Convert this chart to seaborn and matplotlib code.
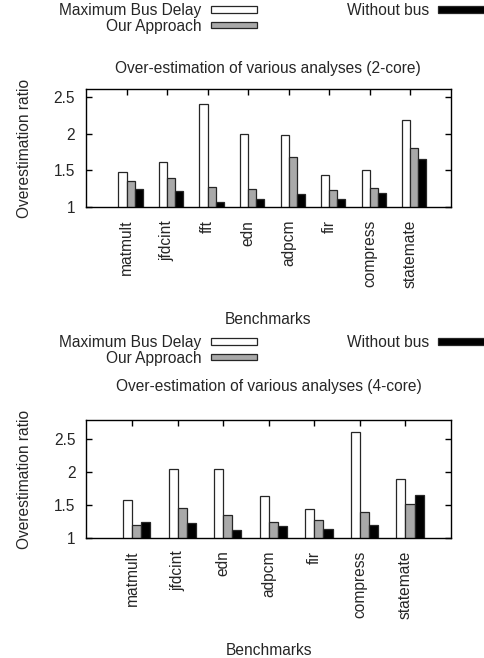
import numpy as np
import pandas as pd
import matplotlib
matplotlib.use("Agg")
import matplotlib.pyplot as plt
import seaborn as sns

# Series names and colours (gnuplot style histogram)
series = ['Maximum Bus Delay', 'Our Approach', 'Without bus']
colors = ['white', '#a9a9a9', 'black']

# 2-core data
bench_2core = ['matmult', 'jfdcint', 'fft', 'edn', 'adpcm', 'fir', 'compress', 'statemate']
max_bus_2core = [1.48, 1.62, 2.40, 2.00, 1.98, 1.44, 1.50, 2.18]
our_2core = [1.35, 1.40, 1.27, 1.25, 1.68, 1.24, 1.26, 1.80]
nobus_2core = [1.25, 1.22, 1.07, 1.11, 1.18, 1.11, 1.19, 1.65]

# 4-core data
bench_4core = ['matmult', 'jfdcint', 'edn', 'adpcm', 'fir', 'compress', 'statemate']
max_bus_4core = [1.57, 2.04, 2.05, 1.63, 1.44, 2.61, 1.90]
our_4core = [1.19, 1.46, 1.35, 1.24, 1.27, 1.40, 1.51]
nobus_4core = [1.25, 1.22, 1.12, 1.18, 1.13, 1.19, 1.65]

yticks = [1, 1.5, 2, 2.5]
ytick_labels = ['1', '1.5', '2', '2.5']

FS = 11.2

sns.set_style("ticks")
plt.rcParams['font.family'] = ['Liberation Sans', 'DejaVu Sans']
plt.rcParams['font.size'] = FS


def panel(ax, bench, a, b, c, title, ymax, title_y, legend_y):
    df = pd.DataFrame({'Benchmark': bench, series[0]: a, series[1]: b, series[2]: c})
    df = df.melt(id_vars='Benchmark', var_name='Series', value_name='Ratio')
    sns.barplot(data=df, x='Benchmark', y='Ratio', hue='Series', order=bench,
                hue_order=series, palette=colors, width=0.6, edgecolor='#262626',
                linewidth=0.9, ax=ax, errorbar=None)
    n = len(bench)
    ax.set_ylim(1, ymax)
    ax.set_xlim(-1.1, n - 0.1)
    ax.set_xticks(np.arange(n) - 0.1)
    ax.set_xticklabels(bench, rotation=90, va='top', ha='center')
    ax.set_yticks(yticks)
    ax.set_yticklabels(ytick_labels)
    ax.tick_params(direction='in', length=4, width=1, top=True, right=True,
                   labelsize=FS, color='black')
    ax.tick_params(axis='x', pad=9)
    ax.tick_params(axis='y', pad=8)
    for s in ax.spines.values():
        s.set_visible(True)
        s.set_color('black')
        s.set_linewidth(1)
    ax.set_title(title, fontsize=FS, y=title_y, va='center')
    ax.set_xlabel('Benchmarks', fontsize=FS)
    ax.xaxis.set_label_coords(0.5, -0.95)
    ax.xaxis.label.set_va('center')
    ax.set_ylabel('Overestimation ratio', fontsize=FS)
    ax.yaxis.set_label_coords(-0.17, 0.5)
    ax.yaxis.label.set_va('center')
    handles, labels = ax.get_legend_handles_labels()
    ax.legend(handles, labels, ncol=2, markerfirst=False, frameon=False,
              loc='upper left', bbox_to_anchor=(59 / 485, legend_y),
              bbox_transform=ax.figure.transFigure, borderpad=0, borderaxespad=0,
              handlelength=3.0, handleheight=0.28, handletextpad=0.6,
              columnspacing=5.75, labelspacing=0.05, fontsize=FS)


fig = plt.figure(figsize=(4.85, 6.58), dpi=100)
ax1 = fig.add_axes([86 / 485, 1 - 207.3 / 658, 364.7 / 485, 118 / 658])
ax2 = fig.add_axes([86.5 / 485, 1 - 538 / 658, 364.5 / 485, 118 / 658])

panel(ax1, bench_2core, max_bus_2core, our_2core, nobus_2core,
      'Over-estimation of various analyses (2-core)', 2.6, 1.105, 1 - 3 / 658)
panel(ax2, bench_4core, max_bus_4core, our_4core, nobus_4core,
      'Over-estimation of various analyses (4-core)', 2.79, 1.21, 1 - 335 / 658)

fig.savefig('out.png', dpi=100)
